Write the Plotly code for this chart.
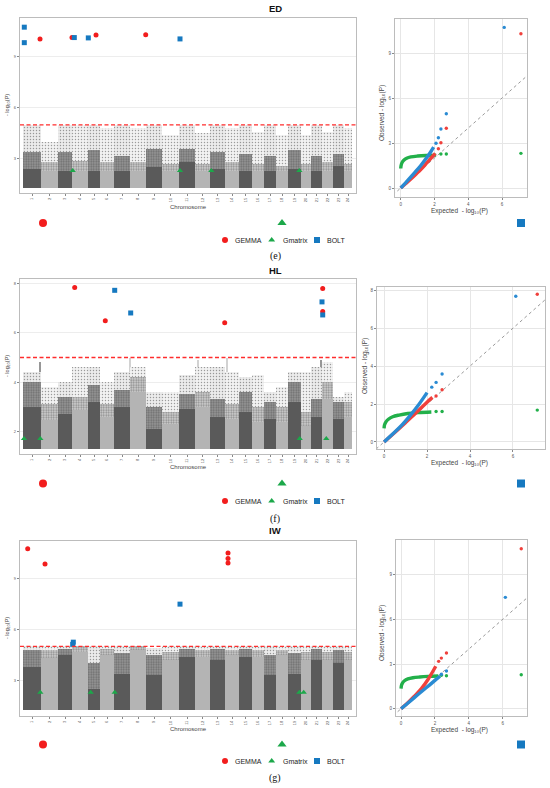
import plotly.graph_objects as go

W, H = 550, 788

# chromosome lengths (Mb) and labels
chrom_len = [180, 170, 140, 160, 120, 140, 160, 160, 160, 170, 160, 150,
             150, 140, 130, 120, 120, 120, 130, 100, 110, 110, 110, 80]
chrom_names = [str(c) for c in range(1, 25)]
snp_floor = 1.28
threshold = 5

# ---------------- ED ----------------
ed_solid = [2.4, 2.3, 2.3, 2.3, 2.3, 2.3, 2.3, 2.3, 2.5, 2.3, 2.8, 2.3,
            2.4, 2.3, 2.3, 2.3, 2.3, 2.3, 2.4, 2.3, 2.3, 2.3, 2.6, 2.3]
ed_dense = [3.4, 2.8, 3.4, 2.9, 3.5, 2.8, 3.2, 2.8, 3.6, 2.7, 3.6, 2.7,
            3.4, 2.8, 3.3, 2.7, 3.2, 2.6, 3.5, 2.7, 3.2, 2.8, 3.3, 2.7]
ed_top = [5.0, 4.0, 5.0, 5.0, 5.0, 4.8, 5.0, 4.8, 5.0, 4.4, 5.0, 4.5,
          5.0, 4.8, 5.0, 4.6, 5.0, 4.4, 5.0, 4.4, 5.0, 4.6, 5.0, 4.8]
ed_spike_pos = []
ed_spike_top = []
ed_gemma_pos = [170, 490, 730, 1227]
ed_gemma_p = [10.06, 10.14, 10.29, 10.31]
ed_gmatrix_pos = [497, 1570, 1883, 2763]
ed_gmatrix_p = [2.31, 2.31, 2.31, 2.31]
ed_bolt_pos = [13, 13, 513, 653, 1570]
ed_bolt_p = [10.75, 9.84, 10.14, 10.12, 10.06]

ed_qq_gemma_x = [0, 0.3, 0.6, 0.9, 1.2, 1.5, 1.8, 2.05]
ed_qq_gemma_y = [0, 0.3, 0.6, 0.92, 1.25, 1.62, 2.0, 2.3]
ed_qq_gemma_px = [2.23, 2.38, 2.70, 7.12]
ed_qq_gemma_py = [2.62, 3.02, 3.98, 10.29]
ed_qq_bolt_x = [0, 0.3, 0.6, 0.9, 1.2, 1.5, 1.8, 1.95]
ed_qq_bolt_y = [0, 0.36, 0.74, 1.12, 1.52, 1.96, 2.45, 2.72]
ed_qq_bolt_px = [2.09, 2.23, 2.38, 2.70, 6.13]
ed_qq_bolt_py = [2.98, 3.35, 3.93, 4.95, 10.71]
ed_qq_gmatrix_x = [0, 0.02, 0.08, 0.18, 0.35, 0.6, 1.0, 1.5, 2.1]
ed_qq_gmatrix_y = [1.3, 1.5, 1.7, 1.85, 1.98, 2.07, 2.13, 2.17, 2.19]
ed_qq_gmatrix_px = [2.38, 2.70, 7.12]
ed_qq_gmatrix_py = [2.27, 2.27, 2.31]

# ---------------- HL ----------------
hl_solid = [3.0, 2.45, 2.7, 2.85, 3.2, 2.6, 3.0, 3.6, 2.1, 2.3, 2.9, 3.0,
            2.6, 2.5, 2.8, 2.4, 2.5, 2.4, 3.2, 2.2, 2.6, 3.3, 2.5, 2.6]
hl_dense = [4.0, 3.1, 3.4, 3.4, 3.9, 3.1, 3.7, 4.2, 3.0, 2.8, 3.5, 3.6,
            3.3, 3.1, 3.6, 3.0, 3.2, 3.0, 4.0, 2.8, 3.3, 4.0, 3.2, 3.2]
hl_top = [4.4, 3.8, 4.0, 4.6, 4.6, 4.0, 4.4, 4.6, 3.6, 3.6, 4.3, 4.6,
          4.6, 4.4, 4.2, 4.3, 3.6, 3.8, 4.4, 4.4, 4.6, 4.8, 3.4, 3.6]
hl_spike_pos = [170, 1075, 1753, 2037, 2980]
hl_spike_top = [4.8, 5.0, 4.9, 5.0, 4.9]
hl_gemma_pos = [517, 823, 2017, 2997, 2997]
hl_gemma_p = [7.84, 6.49, 6.41, 7.80, 6.87]
hl_gmatrix_pos = [10, 173, 2767, 3033]
hl_gmatrix_p = [1.70, 1.70, 1.70, 1.70]
hl_bolt_pos = [917, 1077, 2990, 2997]
hl_bolt_p = [7.73, 6.81, 7.26, 6.73]

hl_qq_gemma_x = [0, 0.5, 1.0, 1.5, 2.0, 2.25]
hl_qq_gemma_y = [0, 0.5, 1.02, 1.55, 2.1, 2.35]
hl_qq_gemma_px = [2.42, 2.70, 7.13]
hl_qq_gemma_py = [2.42, 2.75, 7.79]
hl_qq_bolt_x = [0, 0.4, 0.8, 1.2, 1.6, 2.0]
hl_qq_bolt_y = [0, 0.42, 0.86, 1.38, 1.95, 2.6]
hl_qq_bolt_px = [2.22, 2.42, 2.70, 6.13]
hl_qq_bolt_py = [2.89, 3.14, 3.58, 7.68]
hl_qq_gmatrix_x = [0, 0.02, 0.08, 0.2, 0.4, 0.7, 1.1, 1.6, 2.2]
hl_qq_gmatrix_y = [0.72, 0.9, 1.05, 1.2, 1.33, 1.42, 1.5, 1.55, 1.58]
hl_qq_gmatrix_px = [2.42, 2.70, 7.13]
hl_qq_gmatrix_py = [1.61, 1.61, 1.68]

# ---------------- IW ----------------
iw_solid = [3.8, 4.3, 4.5, 4.7, 2.5, 4.5, 3.4, 4.8, 3.3, 4.2, 4.4, 4.4,
            4.2, 4.5, 4.4, 4.4, 3.3, 4.5, 3.4, 4.2, 4.2, 4.2, 4.0, 4.2]
iw_dense = [4.8, 4.8, 4.9, 5.0, 4.0, 4.9, 4.6, 5.0, 4.5, 4.7, 4.9, 4.8,
            4.9, 4.8, 4.9, 4.8, 4.5, 4.8, 4.6, 4.7, 4.9, 4.7, 4.8, 4.7]
iw_top = [5.0, 5.0, 5.0, 5.0, 5.0, 5.0, 5.0, 5.0, 4.9, 5.0, 5.0, 5.0,
          5.0, 5.0, 5.0, 5.0, 5.0, 5.0, 5.0, 5.0, 5.0, 5.0, 5.0, 5.0]
iw_spike_pos = []
iw_spike_top = []
iw_gemma_pos = [47, 220, 2050, 2050, 2050]
iw_gemma_p = [10.76, 9.86, 10.51, 10.18, 9.92]
iw_gmatrix_pos = [173, 677, 917, 2763, 2807]
iw_gmatrix_p = [2.29, 2.29, 2.29, 2.29, 2.29]
iw_bolt_pos = [1570, 503, 497]
iw_bolt_p = [7.49, 5.25, 5.12]

iw_qq_gemma_x = [0, 0.4, 0.8, 1.2, 1.6, 2.05]
iw_qq_gemma_y = [0, 0.4, 0.85, 1.35, 1.98, 2.85]
iw_qq_gemma_px = [2.22, 2.38, 2.68, 7.1]
iw_qq_gemma_py = [3.18, 3.40, 3.74, 10.74]
iw_qq_bolt_x = [0, 0.5, 1.0, 1.5, 2.0, 2.3]
iw_qq_bolt_y = [0, 0.47, 0.95, 1.42, 1.9, 2.18]
iw_qq_bolt_px = [2.38, 2.68, 6.16]
iw_qq_bolt_py = [2.31, 2.53, 7.48]
iw_qq_gmatrix_x = [0, 0.02, 0.08, 0.2, 0.4, 0.7, 1.1, 1.6, 2.2]
iw_qq_gmatrix_y = [1.35, 1.55, 1.72, 1.88, 2.0, 2.08, 2.13, 2.17, 2.2]
iw_qq_gmatrix_px = [2.38, 2.68, 7.1]
iw_qq_gmatrix_py = [2.25, 2.21, 2.28]

qq_diag = [-1, 8]
legend_names = ["GEMMA", "Gmatrix", "BOLT"]

RED = "#f21d1d"
GREEN = "#1ca84a"
BLUE = "#1679c0"
QQ_RED = "#f0403c"
QQ_GREEN = "#22b04a"
QQ_BLUE = "#2a8bd3"
THRESH = "rgb(255,45,45)"
FONT = "Liberation Sans, Arial, sans-serif"

starts = [sum(chrom_len[:i]) for i in range(len(chrom_len))]
centers = [s + l / 2 for s, l in zip(starts, chrom_len)]
genome_span = [-30, sum(chrom_len) + 40]
odd = [i % 2 == 0 for i in range(len(chrom_len))]
band = ["#5a5a5a" if o else "#b4b4b4" for o in odd]
band_mid = ["#979797" if o else "#d2d2d2" for o in odd]
band_top = ["#ebebeb" if o else "#f2f2f2" for o in odd]

fig = go.Figure()


def dom_x(a, b):
    return [a / W, b / W]


def dom_y(top, bottom):
    return [1 - bottom / H, 1 - top / H]


def chrom_of(pos):
    return max(i for i, s in enumerate(starts) if s <= pos)


def manhattan(n, solid, dense, top, spikes, sig, yrange, yticks, xdom, ydom):
    xa, ya = "x%d" % n if n > 1 else "x", "y%d" % n if n > 1 else "y"
    spike_pos, spike_top = spikes
    if spike_pos:
        fig.add_trace(go.Bar(x=spike_pos, y=[t - snp_floor for t in spike_top], base=snp_floor,
                             width=12, marker=dict(color=[band_mid[chrom_of(p)] for p in spike_pos],
                                                   line_width=0),
                             xaxis=xa, yaxis=ya, showlegend=False, hoverinfo="skip"))
    fig.add_trace(go.Bar(x=centers, y=[s - snp_floor for s in solid], base=snp_floor,
                         width=chrom_len, marker=dict(color=band, line_width=0),
                         xaxis=xa, yaxis=ya, showlegend=False, hoverinfo="skip"))
    fig.add_trace(go.Bar(x=centers, y=[d - s for d, s in zip(dense, solid)], base=solid,
                         width=chrom_len,
                         marker=dict(color=band_mid, line_width=0,
                                     pattern=dict(shape=".", fgcolor=band, size=2.5,
                                                  solidity=0.45, fillmode="overlay")),
                         xaxis=xa, yaxis=ya, showlegend=False, hoverinfo="skip"))
    fig.add_trace(go.Bar(x=centers, y=[t - d for t, d in zip(top, dense)], base=dense,
                         width=chrom_len,
                         marker=dict(color=band_top, line_width=0,
                                     pattern=dict(shape=".", fgcolor=band, size=3,
                                                  solidity=0.18, fillmode="overlay")),
                         xaxis=xa, yaxis=ya, showlegend=False, hoverinfo="skip"))
    styles = [("circle", RED, 5), ("triangle-up", GREEN, 5.5), ("square", BLUE, 5)]
    for (pos, p), (sym, col, sz) in zip(sig, styles):
        fig.add_trace(go.Scatter(x=pos, y=p, mode="markers",
                                 marker=dict(symbol=sym, color=col, size=sz, line_width=0),
                                 xaxis=xa, yaxis=ya, showlegend=False, hoverinfo="skip"))
    fig.add_trace(go.Scatter(x=genome_span, y=[threshold, threshold], mode="lines",
                             line=dict(color=THRESH, width=1.3, dash="4px,2.5px"),
                             xaxis=xa, yaxis=ya, showlegend=False, hoverinfo="skip"))
    fig.update_layout({
        ("xaxis%d" % n if n > 1 else "xaxis"): dict(
            domain=dom_x(*xdom), anchor=ya, range=genome_span,
            tickvals=centers, ticktext=chrom_names, tickangle=-90,
            tickfont=dict(size=4, color="#555"), ticks="outside", ticklen=2,
            tickcolor="#888", showgrid=False, zeroline=False, showline=True,
            mirror=True, linecolor="#bcbcbc", linewidth=1.2),
        ("yaxis%d" % n if n > 1 else "yaxis"): dict(
            domain=dom_y(*ydom), anchor=xa, range=yrange, tickvals=yticks,
            tickfont=dict(size=4, color="#555"), ticks="outside", ticklen=2,
            tickcolor="#888", showgrid=True, gridcolor="#ededed", gridwidth=0.6,
            zeroline=False, showline=True, mirror=True, linecolor="#bcbcbc",
            linewidth=1.2),
    })


def qq(n, curves, points, xrange, yrange, yticks, xdom, ydom):
    xa, ya = "x%d" % n, "y%d" % n
    fig.add_trace(go.Scatter(x=qq_diag, y=qq_diag, mode="lines",
                             line=dict(color="#9a9a9a", width=1, dash="3px,3px"),
                             xaxis=xa, yaxis=ya, showlegend=False, hoverinfo="skip"))
    cols = [QQ_GREEN, QQ_RED, QQ_BLUE]
    for (cx, cy), (px, py), col in zip(curves, points, cols):
        fig.add_trace(go.Scatter(x=cx, y=cy, mode="lines",
                                 line=dict(color=col, width=3.4, shape="spline"),
                                 xaxis=xa, yaxis=ya, showlegend=False, hoverinfo="skip"))
        fig.add_trace(go.Scatter(x=px, y=py, mode="markers",
                                 marker=dict(color=col, size=3.4, line_width=0),
                                 xaxis=xa, yaxis=ya, showlegend=False, hoverinfo="skip"))
    fig.update_layout({
        "xaxis%d" % n: dict(
            domain=dom_x(*xdom), anchor=ya, range=xrange, tickvals=[0, 2, 4, 6],
            tickfont=dict(size=4.5, color="#555"), ticks="outside", ticklen=2,
            tickcolor="#888", showgrid=True, gridcolor="#e6e6e6", gridwidth=0.6,
            zeroline=False, showline=True, mirror=True, linecolor="#bcbcbc",
            linewidth=1.2),
        "yaxis%d" % n: dict(
            domain=dom_y(*ydom), anchor=xa, range=yrange, tickvals=yticks,
            tickfont=dict(size=4.5, color="#555"), ticks="outside", ticklen=2,
            tickcolor="#888", showgrid=True, gridcolor="#e6e6e6", gridwidth=0.6,
            zeroline=False, showline=True, mirror=True, linecolor="#bcbcbc",
            linewidth=1.2),
    })


manhattan(1, ed_solid, ed_dense, ed_top, (ed_spike_pos, ed_spike_top),
          [(ed_gemma_pos, ed_gemma_p), (ed_gmatrix_pos, ed_gmatrix_p), (ed_bolt_pos, ed_bolt_p)],
          [1.0, 11.29], [3, 6, 9], (20, 356), (18, 193))
qq(2, [(ed_qq_gmatrix_x, ed_qq_gmatrix_y), (ed_qq_gemma_x, ed_qq_gemma_y), (ed_qq_bolt_x, ed_qq_bolt_y)],
   [(ed_qq_gmatrix_px, ed_qq_gmatrix_py), (ed_qq_gemma_px, ed_qq_gemma_py), (ed_qq_bolt_px, ed_qq_bolt_py)],
   [-0.34, 7.48], [-0.6, 11.27], [0, 3, 6, 9], (395, 527), (19, 197))

manhattan(3, hl_solid, hl_dense, hl_top, (hl_spike_pos, hl_spike_top),
          [(hl_gemma_pos, hl_gemma_p), (hl_gmatrix_pos, hl_gmatrix_p), (hl_bolt_pos, hl_bolt_p)],
          [1.08, 8.19], [2, 4, 6, 8], (20, 356), (279, 454))
qq(4, [(hl_qq_gmatrix_x, hl_qq_gmatrix_y), (hl_qq_gemma_x, hl_qq_gemma_y), (hl_qq_bolt_x, hl_qq_bolt_y)],
   [(hl_qq_gmatrix_px, hl_qq_gmatrix_py), (hl_qq_gemma_px, hl_qq_gemma_py), (hl_qq_bolt_px, hl_qq_bolt_py)],
   [-0.33, 7.49], [-0.37, 8.17], [0, 2, 4, 6, 8], (377, 545), (287, 449))

manhattan(5, iw_solid, iw_dense, iw_top, (iw_spike_pos, iw_spike_top),
          [(iw_gemma_pos, iw_gemma_p), (iw_gmatrix_pos, iw_gmatrix_p), (iw_bolt_pos, iw_bolt_p)],
          [0.9, 11.21], [3, 6, 9], (20, 356), (541, 716))
qq(6, [(iw_qq_gmatrix_x, iw_qq_gmatrix_y), (iw_qq_gemma_x, iw_qq_gemma_y), (iw_qq_bolt_x, iw_qq_bolt_y)],
   [(iw_qq_gmatrix_px, iw_qq_gmatrix_py), (iw_qq_gemma_px, iw_qq_gemma_py), (iw_qq_bolt_px, iw_qq_bolt_py)],
   [-0.3, 7.44], [-0.49, 11.33], [0, 3, 6, 9], (396, 527), (540, 716))

# overlay axis in page pixels, for the hand-drawn legend keys
panel_rows = [240, 501, 761]
stray_rows = [223, 483.5, 744.5]
key_x = [225, 271.7, 317]
label_x = [233, 280.5, 325]
stray_x = [43, 282, 521]
key_style = [("circle", RED), ("triangle-up", GREEN), ("square", BLUE)]
for i, (sym, col) in enumerate(key_style):
    fig.add_trace(go.Scatter(x=[key_x[i]] * 3, y=panel_rows, mode="markers",
                             marker=dict(symbol=sym, color=col, size=6, line_width=0),
                             xaxis="x7", yaxis="y7", showlegend=False, hoverinfo="skip"))
    fig.add_trace(go.Scatter(x=[stray_x[i]] * 3, y=stray_rows, mode="markers",
                             marker=dict(symbol=sym, color=col, size=8, line_width=0),
                             xaxis="x7", yaxis="y7", showlegend=False, hoverinfo="skip"))
fig.update_layout(
    xaxis7=dict(domain=[0, 1], range=[0, W], visible=False, anchor="y7", fixedrange=True),
    yaxis7=dict(domain=[0, 1], range=[H, 0], visible=False, anchor="x7", fixedrange=True),
)


def note(text, x, y, size, color="#333", family=FONT, angle=0, xanchor="center"):
    fig.add_annotation(text=text, x=x / W, y=1 - y / H, xref="paper", yref="paper",
                       showarrow=False, textangle=angle, xanchor=xanchor, yanchor="middle",
                       font=dict(size=size, color=color, family=family))


for title, ty, cy, qy, yy, qyy, qyx, tag, tagy in [
    ("ED", 9, 207, 210.5, 105, 113, 382, "(e)", 256),
    ("HL", 270, 467, 462.5, 366, 366, 365, "(f)", 519),
    ("IW", 530, 728.5, 729.5, 628, 633, 382, "(g)", 778),
]:
    note("<b>%s</b>" % title, 275, ty, 9.5, color="#111")
    note("Chromosome", 188, cy, 6, color="#444")
    note("- log₁₀(P)", 7, yy, 5.5, color="#444", angle=-90)
    note("Expected  - log₁₀(P)", 460, qy, 6.5, color="#444")
    note("Observed - log₁₀(P)", qyx, qyy, 6.5, color="#444", angle=-90)
    note(tag, 275, tagy, 10, color="#111", family="Liberation Serif, Times New Roman, serif")

for row in panel_rows:
    for name, lx in zip(legend_names, label_x):
        note(name, lx, row, 7, color="#222", xanchor="left")

fig.update_layout(
    width=W, height=H, margin=dict(l=0, r=0, t=0, b=0),
    template="none", barmode="overlay", bargap=0,
    paper_bgcolor="white", plot_bgcolor="rgba(0,0,0,0)",
    font=dict(family=FONT), showlegend=False,
)

fig.write_html("out.html", config={"displayModeBar": False},
               post_script="document.body.style.margin='0';document.body.style.overflow='hidden';")
